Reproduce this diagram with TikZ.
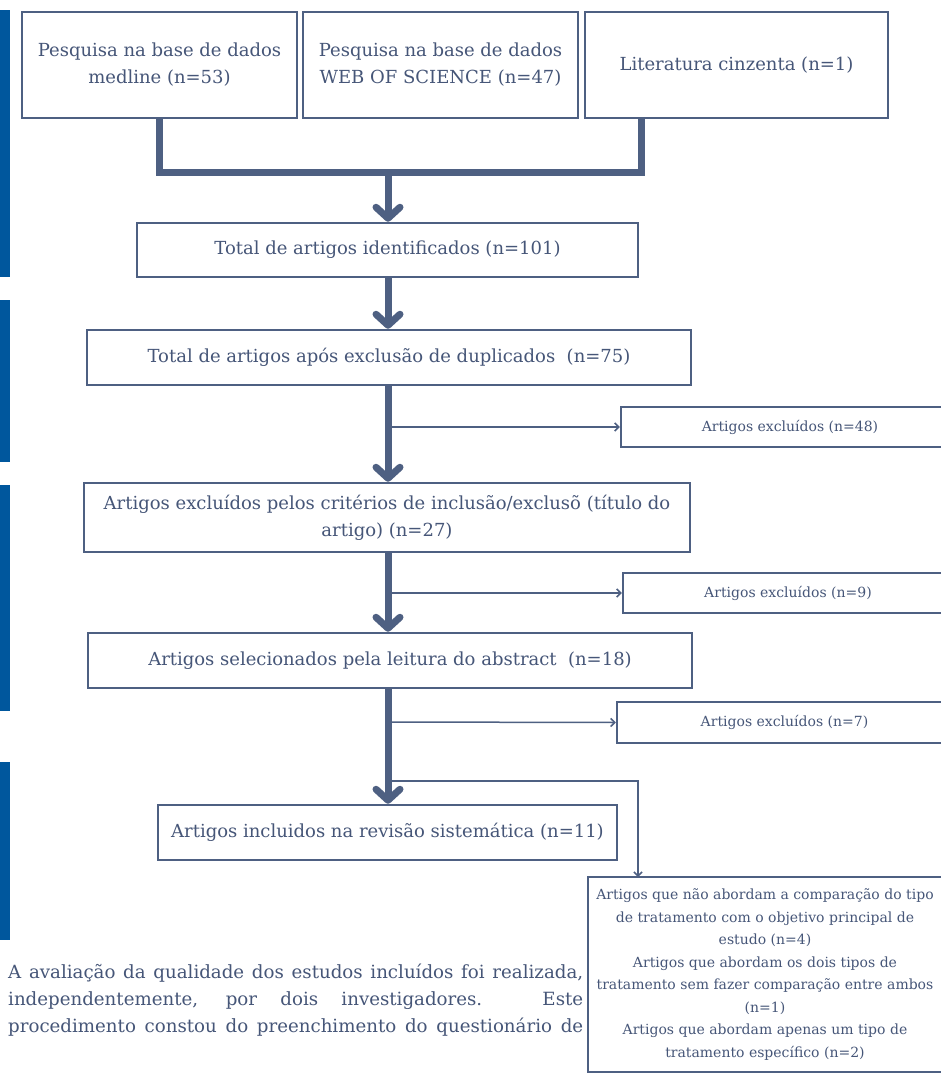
\documentclass[tikz,border=0pt]{standalone}
\usepackage{fontspec}
\setmainfont{DejaVu Serif}
\usetikzlibrary{arrows.meta}
\definecolor{boxc}{RGB}{78,96,130}
\definecolor{txtc}{RGB}{70,86,120}
\definecolor{barc}{RGB}{0,87,157}
\begin{document}
\begin{tikzpicture}[x=1pt,y=-1pt,
 box/.style={draw=boxc, line width=2.5pt, inner sep=0pt, align=center, text=txtc, font=\fontsize{18}{27}\selectfont},
 smallbox/.style={box, font=\fontsize{14}{22.5}\selectfont},
 thickarrow/.style={draw=boxc, line width=7pt, -{Straight Barb[length=11pt,width=24pt,round]}},
 thinarrow/.style={draw=boxc, line width=1.5pt, -{Straight Barb[length=4pt,width=8pt]}},
 bar/.style={fill=barc, draw=none},
 para/.style={anchor=base west, inner sep=0pt, text=txtc, font=\fontsize{18.2}{27}\selectfont}]
\clip (0,0) rectangle (941,1073);
\fill[white] (0,0) rectangle (941,1073);
% blue bars
\path[bar] (0,10) rectangle (10,277);
\path[bar] (0,300) rectangle (10,462);
\path[bar] (0,485) rectangle (10,711);
\path[bar] (0,762) rectangle (10,940);
% top boxes
\node[box, minimum width=275pt, minimum height=106pt] (A) at (159.5,65) {Pesquisa na base de dados\\medline (n=53)};
\node[box, minimum width=275pt, minimum height=106pt] (B) at (440.5,65) {Pesquisa na base de dados\\WEB OF SCIENCE (n=47)};
\node[box, minimum width=303pt, minimum height=106pt] (C) at (736.5,65) {Literatura cinzenta (n=1)};
% main chain
\node[box, minimum width=501pt, minimum height=54pt] (D) at (387.5,250) {Total de artigos identificados (n=101)};
\node[box, minimum width=604pt, minimum height=55pt] (E) at (389,357.5) {Total de artigos após exclusão de duplicados\ \ (n=75)};
\node[box, minimum width=606pt, minimum height=69pt] (F) at (387,517.5) {Artigos excluídos pelos critérios de inclusão/exclusõ (título do\\artigo) (n=27)};
\node[box, minimum width=604pt, minimum height=55pt] (H) at (390,660.5) {Artigos selecionados pela leitura do abstract\ \ (n=18)};
\node[box, minimum width=459pt, minimum height=55pt] (I) at (387.5,832.5) {Artigos incluidos na revisão sistemática (n=11)};
% excluded boxes
\node[smallbox, minimum width=338pt, minimum height=40pt] (G48) at (790,427) {Artigos excluídos (n=48)};
\node[smallbox, minimum width=330pt, minimum height=40pt] (G9) at (788,593) {Artigos excluídos (n=9)};
\node[smallbox, minimum width=335pt, minimum height=41pt] (G7) at (784.5,722.5) {Artigos excluídos (n=7)};
\node[smallbox, minimum width=354pt, minimum height=195pt] (J) at (765,974.5) {Artigos que não abordam a comparação do tipo\\de tratamento com o objetivo principal de\\estudo (n=4)\\Artigos que abordam os dois tipos de\\tratamento sem fazer comparação entre ambos\\(n=1)\\Artigos que abordam apenas um tipo de\\tratamento específico (n=2)};
% top connector
\coordinate (m) at (388,172);
\coordinate (cC) at (641,117);
\draw[boxc, line width=7pt, line join=miter] (A.south) -- (A.south |- m) -- (cC |- m) -- (cC);
\draw[thickarrow] (m) -- (D.north -| m);
\draw[thickarrow] (D.south -| m) -- (E.north -| m);
\draw[thickarrow] (E.south -| m) -- (F.north -| m);
\draw[thickarrow] (F.south -| m) -- (H.north -| m);
\draw[thickarrow] (H.south -| m) -- (I.north -| m);
% branches
\coordinate (b48) at (391,427);
\coordinate (b9) at (391,593);
\coordinate (b7) at (391,722);
\coordinate (bj) at (391,781);
\coordinate (j) at (638,877);
\draw[thinarrow] (b48) -- (G48.west);
\draw[thinarrow] (b9) -- (G9.west);
\draw[thinarrow] (b7) -- (G7.west);
\draw[thinarrow] (bj) -| (j);
% paragraph
\node[para] (p1) at (8,978) {\makebox[575pt][s]{A avaliação da qualidade dos estudos incluídos foi realizada,}};
\node[para] (p2) at (8,1005) {\makebox[575pt][s]{independentemente, por dois investigadores. Este}};
\node[para] (p3) at (8,1032) {\makebox[575pt][s]{procedimento constou do preenchimento do questionário de}};
\end{tikzpicture}
\end{document}
